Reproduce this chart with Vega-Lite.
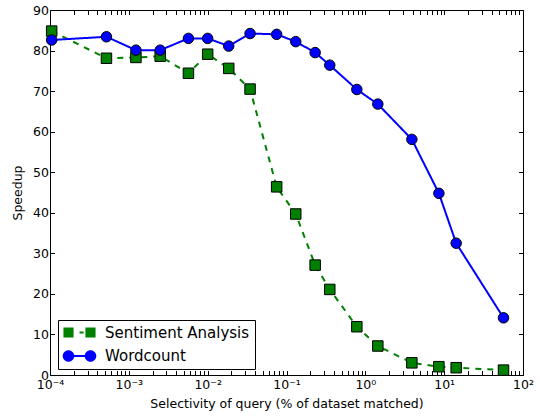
{
  "$schema": "https://vega.github.io/schema/vega-lite/v6.json",
  "width": 473,
  "height": 365,
  "autosize": {"type": "none"},
  "padding": {"left": 50, "top": 10, "right": 17, "bottom": 42},
  "background": "white",
  "config": {
    "view": {"stroke": "black", "strokeWidth": 1},
    "axis": {
      "labelFont": "DejaVu Sans",
      "titleFont": "DejaVu Sans",
      "labelColor": "black",
      "titleColor": "black",
      "tickColor": "black",
      "domain": false,
      "grid": false,
      "labelFontSize": 12.5,
      "titleFontSize": 12.5,
      "titleFontWeight": "normal"
    },
    "legend": {"labelFont": "DejaVu Sans", "labelFontSize": 15, "labelColor": "black"}
  },
  "data": {
    "values": [
      {"series": "Sentiment Analysis", "selectivity": 0.000105, "speedup": 84.8},
      {"series": "Sentiment Analysis", "selectivity": 0.00052, "speedup": 78.1},
      {"series": "Sentiment Analysis", "selectivity": 0.00123, "speedup": 78.3},
      {"series": "Sentiment Analysis", "selectivity": 0.0025, "speedup": 78.6},
      {"series": "Sentiment Analysis", "selectivity": 0.0057, "speedup": 74.4},
      {"series": "Sentiment Analysis", "selectivity": 0.01, "speedup": 79.1},
      {"series": "Sentiment Analysis", "selectivity": 0.0185, "speedup": 75.6},
      {"series": "Sentiment Analysis", "selectivity": 0.0345, "speedup": 70.5},
      {"series": "Sentiment Analysis", "selectivity": 0.075, "speedup": 46.4},
      {"series": "Sentiment Analysis", "selectivity": 0.131, "speedup": 39.7},
      {"series": "Sentiment Analysis", "selectivity": 0.231, "speedup": 27.1},
      {"series": "Sentiment Analysis", "selectivity": 0.354, "speedup": 21.1},
      {"series": "Sentiment Analysis", "selectivity": 0.78, "speedup": 11.9},
      {"series": "Sentiment Analysis", "selectivity": 1.44, "speedup": 7.15},
      {"series": "Sentiment Analysis", "selectivity": 3.89, "speedup": 3.0},
      {"series": "Sentiment Analysis", "selectivity": 8.57, "speedup": 2.05},
      {"series": "Sentiment Analysis", "selectivity": 14.2, "speedup": 1.8},
      {"series": "Sentiment Analysis", "selectivity": 56.6, "speedup": 1.2},
      {"series": "Wordcount", "selectivity": 0.000105, "speedup": 82.6},
      {"series": "Wordcount", "selectivity": 0.00052, "speedup": 83.4},
      {"series": "Wordcount", "selectivity": 0.00123, "speedup": 80.1},
      {"series": "Wordcount", "selectivity": 0.0025, "speedup": 80.1},
      {"series": "Wordcount", "selectivity": 0.0057, "speedup": 83.0},
      {"series": "Wordcount", "selectivity": 0.01, "speedup": 83.0},
      {"series": "Wordcount", "selectivity": 0.0185, "speedup": 81.1},
      {"series": "Wordcount", "selectivity": 0.0345, "speedup": 84.2},
      {"series": "Wordcount", "selectivity": 0.075, "speedup": 84.0},
      {"series": "Wordcount", "selectivity": 0.131, "speedup": 82.2},
      {"series": "Wordcount", "selectivity": 0.231, "speedup": 79.5},
      {"series": "Wordcount", "selectivity": 0.354, "speedup": 76.4},
      {"series": "Wordcount", "selectivity": 0.78, "speedup": 70.4},
      {"series": "Wordcount", "selectivity": 1.44, "speedup": 66.8},
      {"series": "Wordcount", "selectivity": 3.89, "speedup": 58.1},
      {"series": "Wordcount", "selectivity": 8.57, "speedup": 44.8},
      {"series": "Wordcount", "selectivity": 14.2, "speedup": 32.5},
      {"series": "Wordcount", "selectivity": 56.6, "speedup": 14.1}
    ]
  },
  "layer": [
    {
      "mark": {"type": "line", "strokeWidth": 2},
      "encoding": {
        "x": {
          "field": "selectivity",
          "type": "quantitative",
          "scale": {"type": "log", "domain": [0.0001, 100], "nice": false},
          "axis": {
            "orient": "bottom",
            "title": "Selectivity of query (% of dataset matched)",
            "values": [0.0001,0.0002,0.0003,0.0004,0.0005,0.0006,0.0007,0.0008,0.0009,0.001,0.002,0.003,0.004,0.005,0.006,0.007,0.008,0.009,0.01,0.02,0.03,0.04,0.05,0.06,0.07,0.08,0.09,0.1,0.2,0.3,0.4,0.5,0.6,0.7,0.8,0.9,1,2,3,4,5,6,7,8,9,10,20,30,40,50,60,70,80,90,100],
            "labelExpr": "abs(log(datum.value)/LN10 - round(log(datum.value)/LN10)) < 0.01 ? ['10⁻⁴','10⁻³','10⁻²','10⁻¹','10⁰','10¹','10²'][round(log(datum.value)/LN10)+4] : ''",
            "labelOverlap": false,
            "labelFlush": false,
            "tickSize": -4.5,
            "labelPadding": 8,
            "titlePadding": 6,
            "encode": {
              "ticks": {"update": {"y2": {"signal": "abs(log(datum.value)/LN10 - round(log(datum.value)/LN10)) < 0.01 ? -4.5 : -2.2"}}}
            }
          }
        },
        "y": {
          "field": "speedup",
          "type": "quantitative",
          "scale": {"domain": [0, 90], "nice": false, "zero": false},
          "axis": {
            "orient": "left",
            "title": "Speedup",
            "values": [0,10,20,30,40,50,60,70,80,90],
            "tickSize": -4.5,
            "labelPadding": 6,
            "titlePadding": 8
          }
        },
        "color": {
          "field": "series",
          "type": "nominal",
          "scale": {"domain": ["Sentiment Analysis", "Wordcount"], "range": ["#008000", "#0000ff"]},
          "legend": {
            "orient": "none",
            "legendX": 8,
            "legendY": 310,
            "title": null,
            "direction": "vertical",
            "padding": 5,
            "rowPadding": 7.5,
            "symbolOffset": -2,
            "labelOffset": 29,
            "symbolSize": 121,
            "symbolStrokeWidth": 0,
            "strokeColor": "black",
            "encode": {
              "symbols": {
                "update": {
                  "shape": {"signal": "datum.value === 'Wordcount' ? 'M-1.05,0A1.05,1.05 0 1,1 1.05,0A1.05,1.05 0 1,1 -1.05,0Z M2.95,0A1.05,1.05 0 1,1 5.05,0A1.05,1.05 0 1,1 2.95,0Z M0.9,-0.18L3.1,-0.18L3.1,0.18L0.9,0.18Z' : 'M-0.92,-0.92L0.92,-0.92L0.92,0.92L-0.92,0.92Z M3.08,-0.92L4.92,-0.92L4.92,0.92L3.08,0.92Z M2.0,-0.18L2.75,-0.18L2.75,0.18L2.0,0.18Z'"},
                  "fill": {"scale": "color", "field": "value"},
                  "fillOpacity": {"value": 1},
                  "opacity": {"value": 1},
                  "strokeWidth": {"value": 0}
                }
              }
            }
          }
        },
        "strokeDash": {
          "field": "series",
          "type": "nominal",
          "scale": {"domain": ["Sentiment Analysis", "Wordcount"], "range": [[6, 6], [1, 0]]},
          "legend": null
        }
      }
    },
    {
      "transform": [{"filter": "datum.series === 'Sentiment Analysis'"}],
      "mark": {"type": "point", "shape": "square", "filled": true, "fill": "#008000", "opacity": 1, "stroke": "black", "strokeWidth": 1, "size": 110},
      "encoding": {
        "x": {
          "field": "selectivity",
          "type": "quantitative",
          "axis": {
            "orient": "top",
            "title": null,
            "labels": false,
            "values": [0.0001,0.0002,0.0003,0.0004,0.0005,0.0006,0.0007,0.0008,0.0009,0.001,0.002,0.003,0.004,0.005,0.006,0.007,0.008,0.009,0.01,0.02,0.03,0.04,0.05,0.06,0.07,0.08,0.09,0.1,0.2,0.3,0.4,0.5,0.6,0.7,0.8,0.9,1,2,3,4,5,6,7,8,9,10,20,30,40,50,60,70,80,90,100],
            "tickSize": -4.5,
            "encode": {
              "ticks": {"update": {"y2": {"signal": "abs(log(datum.value)/LN10 - round(log(datum.value)/LN10)) < 0.01 ? 4.5 : 2.2"}}}
            }
          }
        },
        "y": {
          "field": "speedup",
          "type": "quantitative",
          "axis": {
            "orient": "right",
            "title": null,
            "labels": false,
            "values": [0,10,20,30,40,50,60,70,80,90],
            "tickSize": -4.5
          }
        }
      }
    },
    {
      "transform": [{"filter": "datum.series === 'Wordcount'"}],
      "mark": {"type": "point", "shape": "circle", "filled": true, "fill": "#0000ff", "opacity": 1, "stroke": "black", "strokeWidth": 1, "size": 110},
      "encoding": {
        "x": {"field": "selectivity", "type": "quantitative", "axis": null},
        "y": {"field": "speedup", "type": "quantitative", "axis": null}
      }
    }
  ],
  "resolve": {"axis": {"x": "independent", "y": "independent"}}
}
